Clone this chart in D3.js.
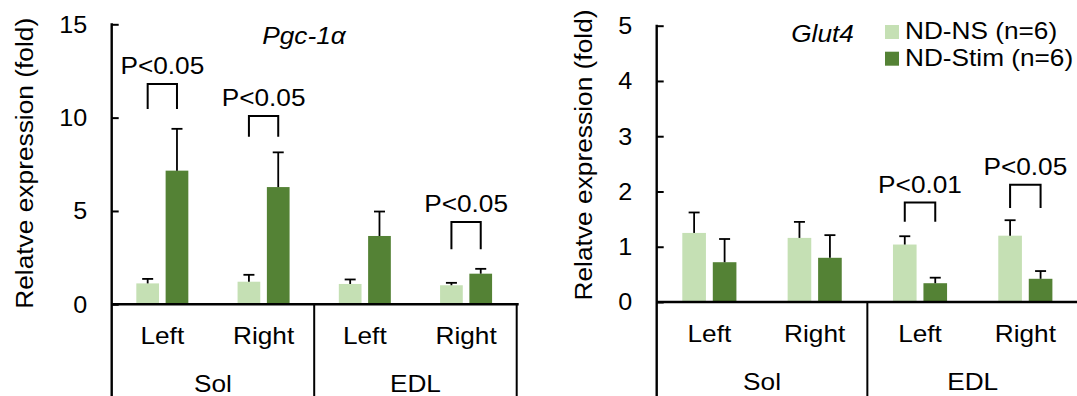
<!DOCTYPE html>
<html>
<head>
<meta charset="utf-8">
<script src="https://cdn.jsdelivr.net/npm/d3@7"></script>
<style>
  html, body { margin: 0; padding: 0; background: #fff; }
  svg { display: block; }
  text { font-family: "Liberation Sans", Arial, sans-serif; fill: #000; }
</style>
</head>
<body>
<svg id="chart" width="1077" height="396"></svg>
<script>
// ---------------- data ----------------
const muscles = ["Sol", "EDL"];
const sides = ["Left", "Right"];
const seriesNames = ["ND-NS (n=6)", "ND-Stim (n=6)"];
const seriesColors = ["#C5E0B4", "#548235"];

// Pgc-1α (order: Sol-Left, Sol-Right, EDL-Left, EDL-Right)
const pgcTicks = [0, 5, 10, 15];
const pgcNS = [1.12, 1.21, 1.09, 1.02];
const pgcNSErr = [0.24, 0.37, 0.24, 0.13];
const pgcStim = [7.16, 6.28, 3.66, 1.64];
const pgcStimErr = [2.24, 1.86, 1.31, 0.26];
const pgcSigIndex = [0, 1, 3];
const pgcSigLabel = ["P<0.05", "P<0.05", "P<0.05"];
const pgcSigTop = [11.8, 10.09, 4.41];
const pgcSigBottom = [10.46, 8.98, 2.95];

// Glut4
const glutTicks = [0, 1, 2, 3, 4, 5];
const glutNS = [1.25, 1.16, 1.04, 1.20];
const glutNSErr = [0.37, 0.29, 0.15, 0.28];
const glutStim = [0.72, 0.80, 0.34, 0.42];
const glutStimErr = [0.42, 0.41, 0.10, 0.14];
const glutSigIndex = [2, 3];
const glutSigLabel = ["P<0.01", "P<0.05"];
const glutSigTop = [1.80, 2.12];
const glutSigBottom = [1.45, 1.70];

const yTitle = "Relatve expression (fold)";

// ---------------- drawing ----------------
const svg = d3.select("#chart");
const SX = 1.07;   // horizontal glyph stretch of the original text
const FS = 24.5;

function txt(g, x, y, s, anchor, size, extra) {
  return g.append("text")
    .attr("transform", `translate(${x},${y})${extra || ""} scale(${SX},1)`)
    .attr("text-anchor", anchor || "middle")
    .style("font-size", (size || FS) + "px")
    .text(s);
}

function drawPanel(p) {
  const g = svg.append("g");
  const cats = [];
  muscles.forEach(m => sides.forEach(s => cats.push(m + "|" + s)));

  const x0 = d3.scaleBand().domain(cats).range([p.axisX, p.rightX]);
  const x1 = d3.scaleBand().domain([0, 1]).range([0, x0.bandwidth()])
    .paddingInner(0.225).paddingOuter(0.84);
  const xm = d3.scaleBand().domain(muscles).range([p.axisX, p.rightX]);
  const y = d3.scaleLinear().domain([0, p.max]).range([p.y0, p.yTop]);

  const values = [p.ns, p.stim];
  const errs = [p.nsErr, p.stimErr];

  // bars
  values.forEach((vals, si) => {
    g.selectAll(null).data(vals).enter().append("rect")
      .attr("x", (d, i) => x0(cats[i]) + x1(si))
      .attr("width", x1.bandwidth())
      .attr("y", d => y(d))
      .attr("height", d => y(0) - y(d))
      .attr("fill", seriesColors[si]);
  });

  // error bars
  values.forEach((vals, si) => {
    vals.forEach((v, i) => {
      const cx = x0(cats[i]) + x1(si) + x1.bandwidth() / 2;
      const top = y(v + errs[si][i]);
      g.append("line").attr("x1", cx).attr("x2", cx)
        .attr("y1", y(v)).attr("y2", top)
        .attr("stroke", "#000").attr("stroke-width", 1.8);
      g.append("line").attr("x1", cx - 5.5).attr("x2", cx + 5.5)
        .attr("y1", top).attr("y2", top)
        .attr("stroke", "#000").attr("stroke-width", 1.8);
    });
  });

  // y axis
  const yAxis = d3.axisRight(y).tickValues(p.ticks).tickSize(7).tickFormat("");
  const ya = g.append("g").attr("transform", `translate(${p.axisX},0)`).call(yAxis);
  ya.select(".domain").remove();
  ya.selectAll(".tick line").attr("stroke", "#000").attr("stroke-width", 2);
  g.append("line").attr("x1", p.axisX).attr("x2", p.axisX)
    .attr("y1", y(p.max) - 1).attr("y2", 400)
    .attr("stroke", "#000").attr("stroke-width", 2.4);
  p.ticks.forEach(t => {
    txt(g, p.axisX - 24.4, y(t) + 8.3, String(t), "end", 23.5);
  });

  // x axis line & category dividers
  g.append("line").attr("x1", p.axisX).attr("x2", p.rightX + 2)
    .attr("y1", y(0)).attr("y2", y(0))
    .attr("stroke", "#000").attr("stroke-width", 2.6);
  muscles.forEach(m => {
    const xr = xm(m) + xm.bandwidth();
    g.append("line").attr("x1", xr).attr("x2", xr)
      .attr("y1", y(0)).attr("y2", 400)
      .attr("stroke", "#000").attr("stroke-width", 2);
  });

  // category labels
  cats.forEach(c => {
    const side = c.split("|")[1];
    txt(g, x0(c) + x0.bandwidth() / 2, y(0) + 39.7, side, "middle");
  });
  muscles.forEach(m => {
    txt(g, xm(m) + xm.bandwidth() / 2, y(0) + 87.5, m, "middle");
  });

  // significance brackets
  p.sigIndex.forEach((ci, k) => {
    const xa = x0(cats[ci]) + x1(0) + x1.bandwidth() / 2;
    const xb = x0(cats[ci]) + x1(1) + x1.bandwidth() / 2;
    const yt = y(p.sigTop[k]);
    const yb = y(p.sigBottom[k]);
    g.append("path")
      .attr("d", `M${xa},${yb}V${yt}H${xb}V${yb}`)
      .attr("fill", "none").attr("stroke", "#000").attr("stroke-width", 2);
    txt(g, (xa + xb) / 2, yt - 10, p.sigLabel[k], "middle");
  });

  // title (italic)
  txt(g, p.titleX, p.titleY, p.title, "middle").style("font-style", "italic");

  // y axis title
  txt(g, p.yTitleX, p.yTitleY, yTitle, "middle", 24.6, " rotate(-90)");
  return g;
}

drawPanel({
  axisX: 111.7, rightX: 516.7, y0: 304.3, yTop: 24.3, max: 15, ticks: pgcTicks,
  ns: pgcNS, nsErr: pgcNSErr, stim: pgcStim, stimErr: pgcStimErr,
  sigIndex: pgcSigIndex, sigLabel: pgcSigLabel, sigTop: pgcSigTop, sigBottom: pgcSigBottom,
  title: "Pgc-1α", titleX: 304, titleY: 44.3,
  yTitleX: 32.5, yTitleY: 163.3
});

drawPanel({
  axisX: 656.7, rightX: 1078, y0: 302, yTop: 25.7, max: 5, ticks: glutTicks,
  ns: glutNS, nsErr: glutNSErr, stim: glutStim, stimErr: glutStimErr,
  sigIndex: glutSigIndex, sigLabel: glutSigLabel, sigTop: glutSigTop, sigBottom: glutSigBottom,
  title: "Glut4", titleX: 822.5, titleY: 41.7,
  yTitleX: 591.5, yTitleY: 155
});

// legend
const lg = svg.append("g");
seriesNames.forEach((n, i) => {
  const yy = 25 + i * 26.7;
  lg.append("rect").attr("x", 885).attr("y", yy).attr("width", 14).attr("height", 14)
    .attr("fill", seriesColors[i]);
  txt(lg, 905, yy + 13.8, n, "start");
});
</script>
</body>
</html>
